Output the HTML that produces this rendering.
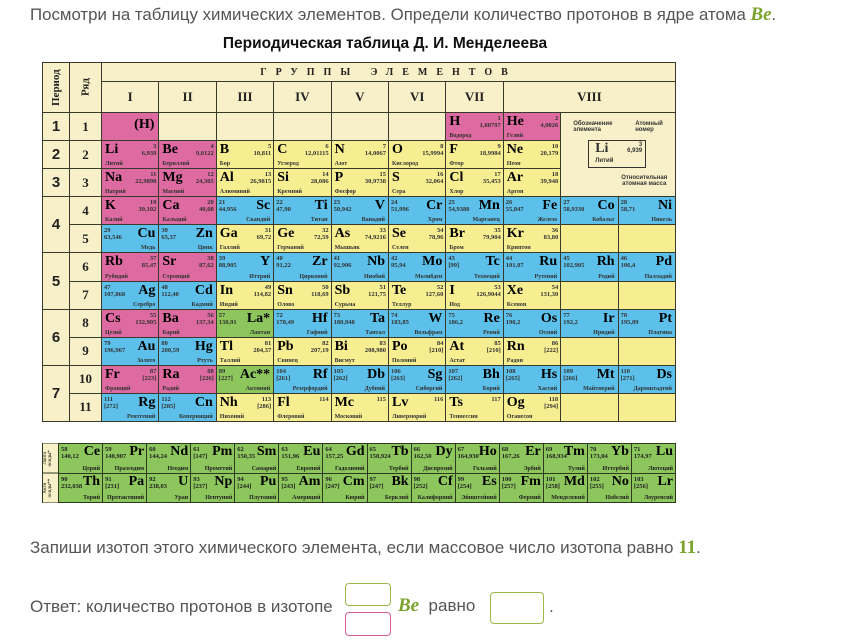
<!DOCTYPE html>
<html><head><meta charset="utf-8">
<style>
body{margin:0;width:856px;height:642px;background:#fff;position:relative;overflow:hidden;font-family:"Liberation Sans",sans-serif}
.top{position:absolute;left:30px;top:4px;font-size:17px;color:#555;white-space:nowrap;transform-origin:left;transform:scaleX(0.99)}
.be{font-family:"Liberation Serif",serif;font-style:italic;font-weight:bold;color:#7aa22c;font-size:19px}
.title{position:absolute;left:208px;top:35px;width:354px;text-align:center;font-size:15.5px;font-weight:bold;color:#111}
.t{position:absolute;left:42px;top:62px;width:634px;height:360px;display:grid;grid-template-columns:26px 31px repeat(10,1fr);grid-template-rows:18px 30px repeat(11,1fr);gap:1px;background:#3a3a2c;border:1px solid #3a3a2c;box-sizing:border-box;font-family:"Liberation Serif",serif}
.t>div,.l>div{position:relative;overflow:hidden}
.e{background:#f8f0c8}.p{background:#dd6aa0}.y{background:#f6ee90}.b{background:#5cc0ea}.g{background:#8cc65c}
.h{display:flex;align-items:center;justify-content:center;font-weight:bold;color:#222;font-size:13px;background:#f8f0c8}
.n{font-family:"Liberation Sans",sans-serif;font-size:15px;font-weight:bold}
.t b{position:absolute;left:3px;top:1px;font-size:14px}
.t i{position:absolute;right:2px;top:2px;font-style:normal;font-size:6.5px;line-height:7px;text-align:right;font-weight:bold;color:#333}
.t u{position:absolute;left:3px;bottom:1px;text-decoration:none;font-size:6px;color:#333;font-weight:bold}
.t .b b{left:auto;right:3px}.t .b i{right:auto;left:2px;text-align:left}.t .b u{left:auto;right:3px}
.t .g b{left:auto;right:3px}.t .g i{right:auto;left:2px;text-align:left}.t .g u{left:auto;right:3px}
.l{position:absolute;left:42px;top:443px;width:634px;height:60px;display:grid;grid-template-columns:15px repeat(14,1fr);grid-template-rows:1fr 1fr;gap:1px;background:#2e3a20;border:1px solid #2e3a20;box-sizing:border-box;font-family:"Liberation Serif",serif}
.l b{position:absolute;right:2px;top:0;font-size:14px}
.l i{position:absolute;left:2px;top:2px;font-style:normal;font-size:6.5px;line-height:7px;font-weight:bold;color:#222}
.l u{position:absolute;right:2px;bottom:1px;text-decoration:none;font-size:6px;color:#222;font-weight:bold}
.q{position:absolute;left:30px;font-size:17px;color:#555;white-space:nowrap}
.box{position:absolute;border:1.5px solid #9bb84a;border-radius:4px;background:#fff;box-sizing:border-box}
</style></head><body>
<div class="top">Посмотри на таблицу химических элементов. Определи количество протонов в ядре атома <span class="be">Be</span>.</div>
<div class="title">Периодическая таблица Д. И. Менделеева</div>
<div class="t">
<div class="h" style="grid-column:1;grid-row:1/3;font-size:11px;writing-mode:vertical-rl;transform:rotate(180deg)">Период</div>
<div class="h" style="grid-column:2;grid-row:1/3;font-size:11px;writing-mode:vertical-rl;transform:rotate(180deg)">Ряд</div>
<div class="h" style="grid-column:3/13;grid-row:1;font-size:10px;letter-spacing:9px">ГРУППЫ ЭЛЕМЕНТОВ</div>
<div class="h" style="grid-row:2">I</div><div class="h" style="grid-row:2">II</div><div class="h" style="grid-row:2">III</div><div class="h" style="grid-row:2">IV</div><div class="h" style="grid-row:2">V</div><div class="h" style="grid-row:2">VI</div><div class="h" style="grid-row:2">VII</div><div class="h" style="grid-row:2;grid-column:10/13">VIII</div>
<div class="h n" style="grid-column:1;grid-row:3">1</div><div class="h n" style="grid-column:1;grid-row:4">2</div><div class="h n" style="grid-column:1;grid-row:5">3</div>
<div class="h n" style="grid-column:1;grid-row:6/8">4</div><div class="h n" style="grid-column:1;grid-row:8/10">5</div><div class="h n" style="grid-column:1;grid-row:10/12">6</div><div class="h n" style="grid-column:1;grid-row:12/14">7</div>
<div class="h" style="grid-column:2;grid-row:3">1</div><div class="h" style="grid-column:2;grid-row:4">2</div><div class="h" style="grid-column:2;grid-row:5">3</div><div class="h" style="grid-column:2;grid-row:6">4</div><div class="h" style="grid-column:2;grid-row:7">5</div><div class="h" style="grid-column:2;grid-row:8">6</div><div class="h" style="grid-column:2;grid-row:9">7</div><div class="h" style="grid-column:2;grid-row:10">8</div><div class="h" style="grid-column:2;grid-row:11">9</div><div class="h" style="grid-column:2;grid-row:12">10</div><div class="h" style="grid-column:2;grid-row:13">11</div>
<div class="e" style="grid-column:11/13;grid-row:3/6;font-family:'Liberation Sans',sans-serif;font-size:6px;font-weight:bold;color:#333">
<span style="position:absolute;left:12px;top:8px">Обозначение<br>элемента</span><span style="position:absolute;left:74px;top:8px">Атомный<br>номер</span>
<div style="position:absolute;left:27px;top:27px;width:56px;height:26px;border:1px solid #333"><span style="position:absolute;left:6px;top:0;font-family:'Liberation Serif',serif;font-size:14px">Li</span><span style="position:absolute;right:3px;top:1px;text-align:right">3<br>6,939</span><span style="position:absolute;left:6px;top:17px">Литий</span></div>
<span style="position:absolute;left:60px;top:62px;text-align:center">Относительная<br>атомная масса</span></div>
<div class="p" style="grid-column:3;grid-row:3"><b style="left:auto;right:4px;top:4px">(H)</b></div><div class="e"></div><div class="e"></div><div class="e"></div><div class="e"></div><div class="e"></div>
<div class="p"><b>H</b><i>1<br>1,00797</i><u>Водород</u></div><div class="p"><b>He</b><i>2<br>4,0026</i><u>Гелий</u></div>
<div class="p"><b>Li</b><i>3<br>6,939</i><u>Литий</u></div><div class="p"><b>Be</b><i>4<br>9,0122</i><u>Бериллий</u></div><div class="y"><b>B</b><i>5<br>10,811</i><u>Бор</u></div><div class="y"><b>C</b><i>6<br>12,01115</i><u>Углерод</u></div><div class="y"><b>N</b><i>7<br>14,0067</i><u>Азот</u></div><div class="y"><b>O</b><i>8<br>15,9994</i><u>Кислород</u></div><div class="y"><b>F</b><i>9<br>18,9984</i><u>Фтор</u></div><div class="y"><b>Ne</b><i>10<br>20,179</i><u>Неон</u></div>
<div class="p"><b>Na</b><i>11<br>22,9898</i><u>Натрий</u></div><div class="p"><b>Mg</b><i>12<br>24,305</i><u>Магний</u></div><div class="y"><b>Al</b><i>13<br>26,9815</i><u>Алюминий</u></div><div class="y"><b>Si</b><i>14<br>28,086</i><u>Кремний</u></div><div class="y"><b>P</b><i>15<br>30,9738</i><u>Фосфор</u></div><div class="y"><b>S</b><i>16<br>32,064</i><u>Сера</u></div><div class="y"><b>Cl</b><i>17<br>35,453</i><u>Хлор</u></div><div class="y"><b>Ar</b><i>18<br>39,948</i><u>Аргон</u></div>
<div class="p"><b>K</b><i>19<br>39,102</i><u>Калий</u></div><div class="p"><b>Ca</b><i>20<br>40,08</i><u>Кальций</u></div><div class="b"><b>Sc</b><i>21<br>44,956</i><u>Скандий</u></div><div class="b"><b>Ti</b><i>22<br>47,90</i><u>Титан</u></div><div class="b"><b>V</b><i>23<br>50,942</i><u>Ванадий</u></div><div class="b"><b>Cr</b><i>24<br>51,996</i><u>Хром</u></div><div class="b"><b>Mn</b><i>25<br>54,9380</i><u>Марганец</u></div><div class="b"><b>Fe</b><i>26<br>55,847</i><u>Железо</u></div><div class="b"><b>Co</b><i>27<br>58,9330</i><u>Кобальт</u></div><div class="b"><b>Ni</b><i>28<br>58,71</i><u>Никель</u></div>
<div class="b"><b>Cu</b><i>29<br>63,546</i><u>Медь</u></div><div class="b"><b>Zn</b><i>30<br>65,37</i><u>Цинк</u></div><div class="y"><b>Ga</b><i>31<br>69,72</i><u>Галлий</u></div><div class="y"><b>Ge</b><i>32<br>72,59</i><u>Германий</u></div><div class="y"><b>As</b><i>33<br>74,9216</i><u>Мышьяк</u></div><div class="y"><b>Se</b><i>34<br>78,96</i><u>Селен</u></div><div class="y"><b>Br</b><i>35<br>79,904</i><u>Бром</u></div><div class="y"><b>Kr</b><i>36<br>83,80</i><u>Криптон</u></div><div class="y"></div><div class="y"></div>
<div class="p"><b>Rb</b><i>37<br>85,47</i><u>Рубидий</u></div><div class="p"><b>Sr</b><i>38<br>87,62</i><u>Стронций</u></div><div class="b"><b>Y</b><i>39<br>88,905</i><u>Иттрий</u></div><div class="b"><b>Zr</b><i>40<br>91,22</i><u>Цирконий</u></div><div class="b"><b>Nb</b><i>41<br>92,906</i><u>Ниобий</u></div><div class="b"><b>Mo</b><i>42<br>95,94</i><u>Молибден</u></div><div class="b"><b>Tc</b><i>43<br>[99]</i><u>Технеций</u></div><div class="b"><b>Ru</b><i>44<br>101,07</i><u>Рутений</u></div><div class="b"><b>Rh</b><i>45<br>102,905</i><u>Родий</u></div><div class="b"><b>Pd</b><i>46<br>106,4</i><u>Палладий</u></div>
<div class="b"><b>Ag</b><i>47<br>107,868</i><u>Серебро</u></div><div class="b"><b>Cd</b><i>48<br>112,40</i><u>Кадмий</u></div><div class="y"><b>In</b><i>49<br>114,82</i><u>Индий</u></div><div class="y"><b>Sn</b><i>50<br>118,69</i><u>Олово</u></div><div class="y"><b>Sb</b><i>51<br>121,75</i><u>Сурьма</u></div><div class="y"><b>Te</b><i>52<br>127,60</i><u>Теллур</u></div><div class="y"><b>I</b><i>53<br>126,9044</i><u>Иод</u></div><div class="y"><b>Xe</b><i>54<br>131,30</i><u>Ксенон</u></div><div class="y"></div><div class="y"></div>
<div class="p"><b>Cs</b><i>55<br>132,905</i><u>Цезий</u></div><div class="p"><b>Ba</b><i>56<br>137,34</i><u>Барий</u></div><div class="g"><b>La*</b><i>57<br>138,91</i><u>Лантан</u></div><div class="b"><b>Hf</b><i>72<br>178,49</i><u>Гафний</u></div><div class="b"><b>Ta</b><i>73<br>180,948</i><u>Тантал</u></div><div class="b"><b>W</b><i>74<br>183,85</i><u>Вольфрам</u></div><div class="b"><b>Re</b><i>75<br>186,2</i><u>Рений</u></div><div class="b"><b>Os</b><i>76<br>190,2</i><u>Осмий</u></div><div class="b"><b>Ir</b><i>77<br>192,2</i><u>Иридий</u></div><div class="b"><b>Pt</b><i>78<br>195,09</i><u>Платина</u></div>
<div class="b"><b>Au</b><i>79<br>196,967</i><u>Золото</u></div><div class="b"><b>Hg</b><i>80<br>200,59</i><u>Ртуть</u></div><div class="y"><b>Tl</b><i>81<br>204,37</i><u>Таллий</u></div><div class="y"><b>Pb</b><i>82<br>207,19</i><u>Свинец</u></div><div class="y"><b>Bi</b><i>83<br>208,980</i><u>Висмут</u></div><div class="y"><b>Po</b><i>84<br>[210]</i><u>Полоний</u></div><div class="y"><b>At</b><i>85<br>[210]</i><u>Астат</u></div><div class="y"><b>Rn</b><i>86<br>[222]</i><u>Радон</u></div><div class="y"></div><div class="y"></div>
<div class="p"><b>Fr</b><i>87<br>[223]</i><u>Франций</u></div><div class="p"><b>Ra</b><i>88<br>[226]</i><u>Радий</u></div><div class="g"><b>Ac**</b><i>89<br>[227]</i><u>Актиний</u></div><div class="b"><b>Rf</b><i>104<br>[261]</i><u>Резерфордий</u></div><div class="b"><b>Db</b><i>105<br>[262]</i><u>Дубний</u></div><div class="b"><b>Sg</b><i>106<br>[263]</i><u>Сиборгий</u></div><div class="b"><b>Bh</b><i>107<br>[262]</i><u>Борий</u></div><div class="b"><b>Hs</b><i>108<br>[265]</i><u>Хассий</u></div><div class="b"><b>Mt</b><i>109<br>[266]</i><u>Майтнерий</u></div><div class="b"><b>Ds</b><i>110<br>[271]</i><u>Дармштадтий</u></div>
<div class="b"><b>Rg</b><i>111<br>[272]</i><u>Рентгений</u></div><div class="b"><b>Cn</b><i>112<br>[285]</i><u>Коперниций</u></div><div class="y"><b>Nh</b><i>113<br>[286]</i><u>Нихоний</u></div><div class="y"><b>Fl</b><i>114</i><u>Флеровий</u></div><div class="y"><b>Mc</b><i>115</i><u>Московий</u></div><div class="y"><b>Lv</b><i>116</i><u>Ливерморий</u></div><div class="y"><b>Ts</b><i>117</i><u>Теннессин</u></div><div class="y"><b>Og</b><i>118<br>[294]</i><u>Оганесон</u></div><div class="y"></div><div class="y"></div>
</div>
<div class="l">
<div class="e" style="font-size:5px;writing-mode:vertical-rl;transform:rotate(180deg);text-align:center">Ланта<br>ноиды*</div>
<div class="g"><b>Ce</b><i>58<br>140,12</i><u>Церий</u></div><div class="g"><b>Pr</b><i>59<br>140,907</i><u>Празеодим</u></div><div class="g"><b>Nd</b><i>60<br>144,24</i><u>Неодим</u></div><div class="g"><b>Pm</b><i>61<br>[147]</i><u>Прометий</u></div><div class="g"><b>Sm</b><i>62<br>150,35</i><u>Самарий</u></div><div class="g"><b>Eu</b><i>63<br>151,96</i><u>Европий</u></div><div class="g"><b>Gd</b><i>64<br>157,25</i><u>Гадолиний</u></div><div class="g"><b>Tb</b><i>65<br>158,924</i><u>Тербий</u></div><div class="g"><b>Dy</b><i>66<br>162,50</i><u>Диспрозий</u></div><div class="g"><b>Ho</b><i>67<br>164,930</i><u>Гольмий</u></div><div class="g"><b>Er</b><i>68<br>167,26</i><u>Эрбий</u></div><div class="g"><b>Tm</b><i>69<br>168,934</i><u>Тулий</u></div><div class="g"><b>Yb</b><i>70<br>173,04</i><u>Иттербий</u></div><div class="g"><b>Lu</b><i>71<br>174,97</i><u>Лютеций</u></div>
<div class="e" style="font-size:5px;writing-mode:vertical-rl;transform:rotate(180deg);text-align:center">Акти<br>ноиды**</div>
<div class="g"><b>Th</b><i>90<br>232,038</i><u>Торий</u></div><div class="g"><b>Pa</b><i>91<br>[231]</i><u>Протактиний</u></div><div class="g"><b>U</b><i>92<br>238,03</i><u>Уран</u></div><div class="g"><b>Np</b><i>93<br>[237]</i><u>Нептуний</u></div><div class="g"><b>Pu</b><i>94<br>[244]</i><u>Плутоний</u></div><div class="g"><b>Am</b><i>95<br>[243]</i><u>Америций</u></div><div class="g"><b>Cm</b><i>96<br>[247]</i><u>Кюрий</u></div><div class="g"><b>Bk</b><i>97<br>[247]</i><u>Берклий</u></div><div class="g"><b>Cf</b><i>98<br>[252]</i><u>Калифорний</u></div><div class="g"><b>Es</b><i>99<br>[254]</i><u>Эйнштейний</u></div><div class="g"><b>Fm</b><i>100<br>[257]</i><u>Фермий</u></div><div class="g"><b>Md</b><i>101<br>[258]</i><u>Менделевий</u></div><div class="g"><b>No</b><i>102<br>[255]</i><u>Нобелий</u></div><div class="g"><b>Lr</b><i>103<br>[256]</i><u>Лоуренсий</u></div>
</div>
<div class="q" style="top:537px">Запиши изотоп этого химического элемента, если массовое число изотопа равно <span class="be" style="font-style:normal">11</span>.</div>
<div class="q" style="top:597px">Ответ: количество протонов в изотопе</div>
<div class="box" style="left:345px;top:583px;width:46px;height:23px"></div>
<div class="box" style="left:345px;top:612px;width:46px;height:24px;border-color:#d05a9a"></div>
<div class="q" style="left:398px;top:595px"><span class="be">Be</span>&nbsp; равно</div>
<div class="box" style="left:490px;top:592px;width:54px;height:32px"></div>
<div class="q" style="left:549px;top:597px">.</div>
</body></html>
